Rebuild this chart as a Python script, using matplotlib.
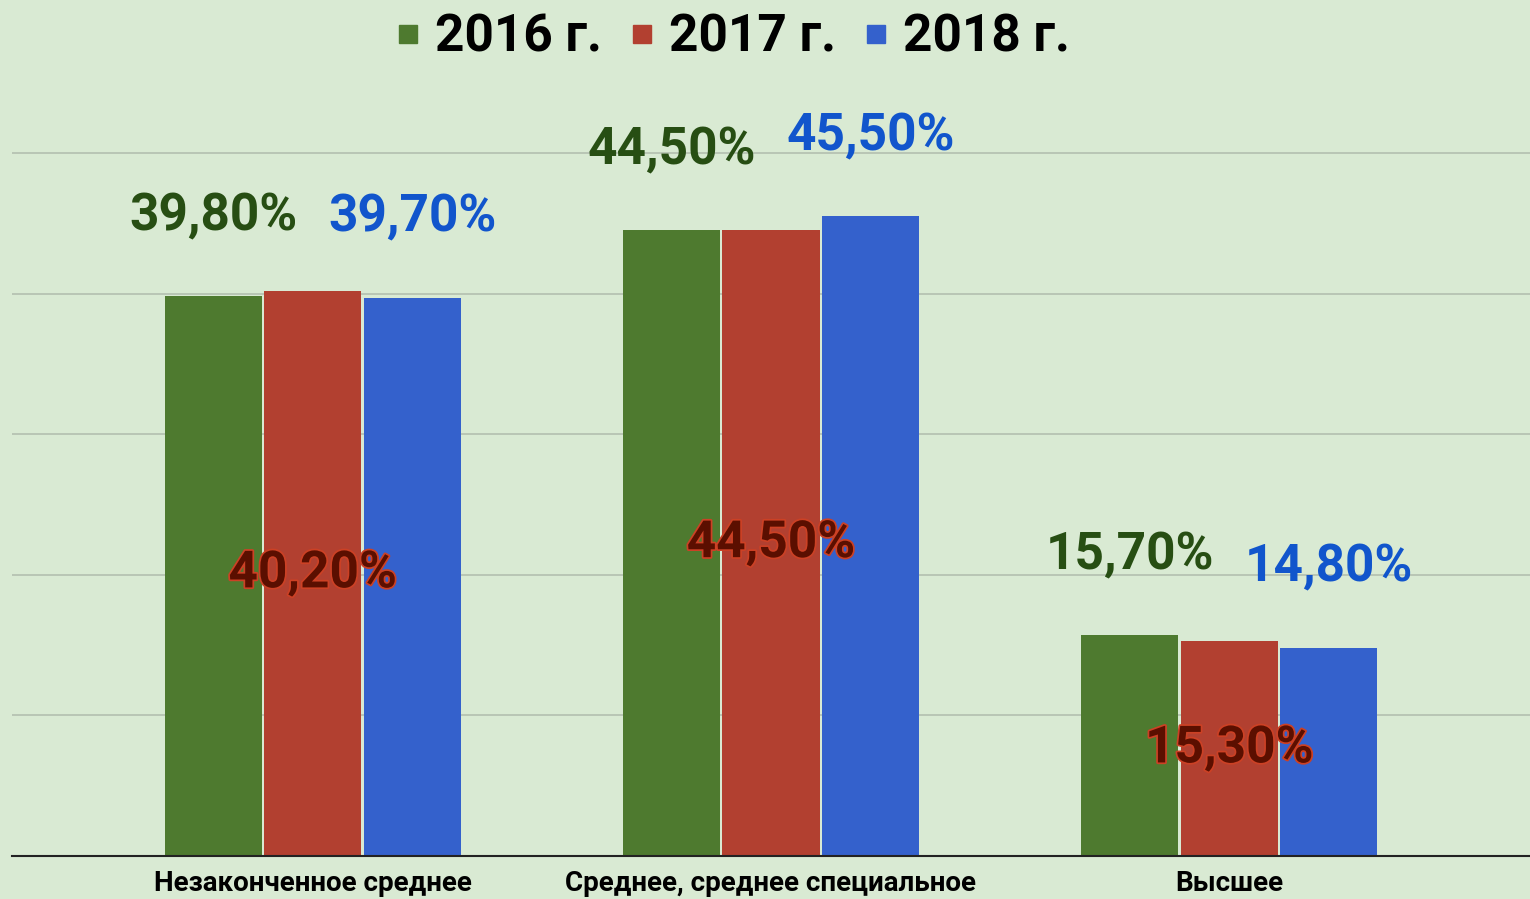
import matplotlib
matplotlib.use("Agg")
import matplotlib.pyplot as plt
import matplotlib.patheffects as pe
from matplotlib.lines import Line2D
import numpy as np

categories = ["Незаконченное среднее", "Среднее, среднее специальное", "Высшее"]
years = ["2016 г.", "2017 г.", "2018 г."]
v2016 = [39.8, 44.5, 15.7]
v2017 = [40.2, 44.5, 15.3]
v2018 = [39.7, 45.5, 14.8]
series = [v2016, v2017, v2018]

bar_colors = ["#4e7a2f", "#b24030", "#3461cc"]
label_colors = ["#274e13", "#5b0f00", "#1155cc"]
bg = "#d9ead3"

plt.rcParams['font.family'] = ['Roboto', 'DejaVu Sans']

W, H = 1530, 899
fig = plt.figure(figsize=(W / 100, H / 100), dpi=100, facecolor=bg)
px_per_unit = 14.06
base_px = 856
top_px = 90
ax = fig.add_axes([12 / W, (H - base_px) / H, (W - 12) / W, (base_px - top_px) / H])
ax.set_facecolor(bg)
ax.set_ylim(0, (base_px - top_px) / px_per_unit)
ax.set_xlim(-0.656, 2.656)

x = np.arange(len(categories))
step = 0.217
width = 0.212
for i, (vals, c) in enumerate(zip(series, bar_colors)):
    xs = x + (i - 1) * step
    ax.bar(xs, vals, width=width, color=c, zorder=3, label=years[i])
    for xi, v in zip(xs, vals):
        s = f"{v:.2f}".replace(".", ",") + "%"
        if i == 1:
            ax.text(xi, v / 2, s, ha="center", va="center", fontsize=37,
                    fontweight="bold", color=label_colors[i], zorder=5,
                    path_effects=[pe.withStroke(linewidth=2.5, foreground="#cc4125")])
        else:
            ax.text(xi, v + 5.7, s, ha="center", va="center", fontsize=37,
                    fontweight="bold", color=label_colors[i], zorder=5)

ax.set_yticks([10, 20, 30, 40, 50])
ax.yaxis.grid(True, color="#b3bfb0", linewidth=1.2, zorder=0)
ax.tick_params(axis="y", length=0, labelleft=False)
ax.set_xticks(x)
ax.set_xticklabels(categories, fontsize=20, fontweight="bold", color="#000000")
ax.tick_params(axis="x", length=0, pad=10)
for sp in ["top", "right", "left"]:
    ax.spines[sp].set_visible(False)
ax.spines["bottom"].set_color("#222222")
ax.spines["bottom"].set_linewidth(1.5)
ax.spines["bottom"].set_zorder(4)

handles = [Line2D([0], [0], marker="s", linestyle="none", markersize=13,
                  markerfacecolor=c, markeredgecolor=c) for c in bar_colors]
leg = fig.legend(handles, years, loc="center", bbox_to_anchor=(733 / W, 1 - 38 / H),
                 ncol=3, frameon=False, handlelength=0.45, handletextpad=0.3,
                 columnspacing=0.55, prop={"family": "Roboto", "weight": "bold", "size": 37})

fig.savefig("out.png", dpi=100, facecolor=bg)
